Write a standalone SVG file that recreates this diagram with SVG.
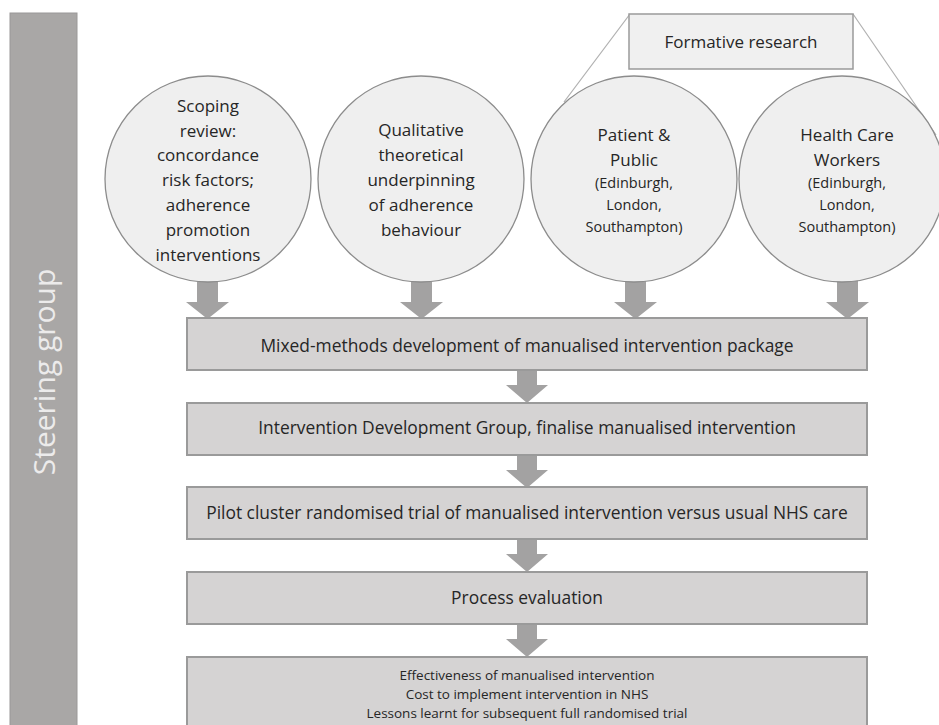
<svg xmlns="http://www.w3.org/2000/svg" width="939" height="725" viewBox="0 0 939 725">
<style>
.t{font-family:"Open Sans","Noto Sans","Liberation Sans",sans-serif;fill:#262626;text-anchor:middle}
.c{font-size:17px}
.s{font-size:14.5px}
.b{font-size:17.4px}
.sm{font-size:13.5px}
.circ{fill:#efefef;stroke:#8c8c8c;stroke-width:1.3}
.box{fill:#d5d3d3;stroke:#9a9a9a;stroke-width:2}
.arr{fill:#a3a2a2}
.ln{stroke:#b0b0b0;stroke-width:1.2;fill:none}
</style>
<rect width="939" height="725" fill="#ffffff"/>
<g id="steering">
<rect x="10" y="13" width="67" height="720" fill="#a9a7a6" stroke="#9a9898" stroke-width="1"/>
<text class="t" x="0" y="0" transform="translate(55,372) rotate(-90)" style="font-size:30px;fill:#ecebeb">Steering group</text>
</g>
<g id="formative">
<line class="ln" x1="630" y1="14" x2="564" y2="102"/>
<line class="ln" x1="853" y1="14" x2="936" y2="135"/>
<rect x="629" y="14" width="224" height="55" fill="#f0f0f0" stroke="#9a9a9a" stroke-width="1.5"/>
<text class="t c" x="741" y="48">Formative research</text>
</g>
<g id="connectors">
<polygon class="arr" points="197,280 218,280 218,302 229,302 207.5,319 186,302 197,302"/>
<polygon class="arr" points="411,280 432,280 432,302 443,302 421.5,319 400,302 411,302"/>
<polygon class="arr" points="625,280 646,280 646,302 657,302 635.5,319 614,302 625,302"/>
<polygon class="arr" points="837,280 858,280 858,302 869,302 847.5,319 826,302 837,302"/>
<polygon class="arr" points="517,370 537,370 537,385 548,385 527,403 506,385 517,385"/>
<polygon class="arr" points="517,455 537,455 537,470 548,470 527,488 506,470 517,470"/>
<polygon class="arr" points="517,539 537,539 537,554 548,554 527,572 506,554 517,554"/>
<polygon class="arr" points="517,624 537,624 537,639 548,639 527,657 506,639 517,639"/>
</g>
<g id="scoping">
<circle class="circ" cx="208" cy="179" r="103"/>
<text class="t c" x="208" y="112">Scoping</text>
<text class="t c" x="208" y="137">review:</text>
<text class="t c" x="208" y="161">concordance</text>
<text class="t c" x="208" y="186">risk factors;</text>
<text class="t c" x="208" y="211">adherence</text>
<text class="t c" x="208" y="236">promotion</text>
<text class="t c" x="208" y="261">interventions</text>
</g>
<g id="qualitative">
<circle class="circ" cx="421" cy="179" r="103"/>
<text class="t c" x="421" y="136">Qualitative</text>
<text class="t c" x="421" y="161">theoretical</text>
<text class="t c" x="421" y="186">underpinning</text>
<text class="t c" x="421" y="211">of adherence</text>
<text class="t c" x="421" y="236">behaviour</text>
</g>
<g id="patient">
<circle class="circ" cx="634" cy="179" r="103"/>
<text class="t c" x="634" y="141">Patient &amp;</text>
<text class="t c" x="634" y="166">Public</text>
<text class="t s" x="634" y="188">(Edinburgh,</text>
<text class="t s" x="634" y="210">London,</text>
<text class="t s" x="634" y="232">Southampton)</text>
</g>
<g id="hcw">
<circle class="circ" cx="842" cy="179" r="103"/>
<text class="t c" x="847" y="141">Health Care</text>
<text class="t c" x="847" y="166">Workers</text>
<text class="t s" x="847" y="188">(Edinburgh,</text>
<text class="t s" x="847" y="210">London,</text>
<text class="t s" x="847" y="232">Southampton)</text>
</g>
<g id="box1">
<rect class="box" x="187" y="318" width="680" height="52"/>
<text class="t b" x="527" y="352">Mixed-methods development of manualised intervention package</text>
</g>
<g id="box2">
<rect class="box" x="187" y="403" width="680" height="52"/>
<text class="t b" x="527" y="434">Intervention Development Group, finalise manualised intervention</text>
</g>
<g id="box3">
<rect class="box" x="187" y="487" width="680" height="52"/>
<text class="t b" x="527" y="519">Pilot cluster randomised trial of manualised intervention versus usual NHS care</text>
</g>
<g id="box4">
<rect class="box" x="187" y="572" width="680" height="52"/>
<text class="t b" x="527" y="604">Process evaluation</text>
</g>
<g id="box5">
<rect class="box" x="187" y="657" width="680" height="80"/>
<text class="t sm" x="527" y="680">Effectiveness of manualised intervention</text>
<text class="t sm" x="527" y="699">Cost to implement intervention in NHS</text>
<text class="t sm" x="527" y="718">Lessons learnt for subsequent full randomised trial</text>
</g>
</svg>
